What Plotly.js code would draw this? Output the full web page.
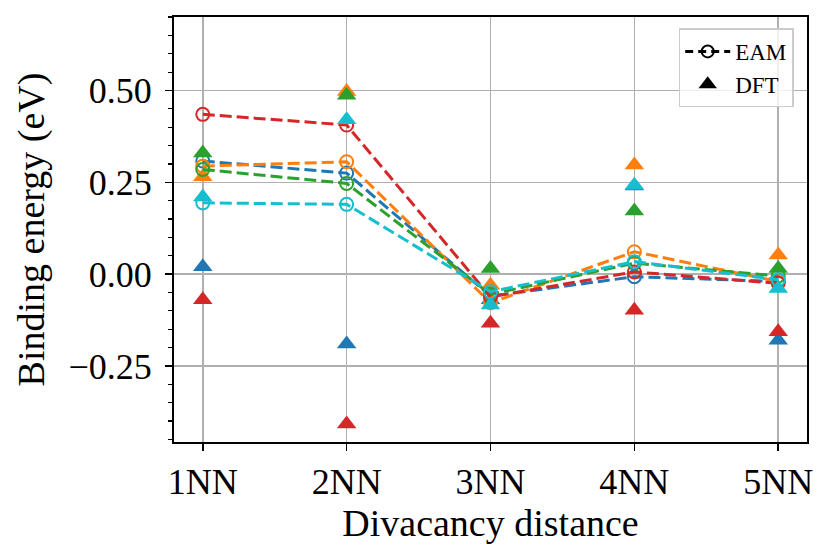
<!DOCTYPE html>
<html>
<head>
<meta charset="utf-8">
<script src="https://cdn.plot.ly/plotly-3.0.1.min.js"></script>
<style>html,body{margin:0;padding:0;background:#fff;}#chart{width:832px;height:553px;}</style>
</head>
<body>
<div id="chart"></div>
<script>
const positions = [1, 2, 3, 4, 5];
const tickLabels = ["1NN", "2NN", "3NN", "4NN", "5NN"];
const seriesColors = ["#1f77b4", "#ff7f0e", "#2ca02c", "#d62728", "#17becf"];

const eamBlue   = [0.308, 0.275, -0.060, -0.007, -0.020];
const eamOrange = [0.294, 0.306, -0.078,  0.061, -0.020];
const eamGreen  = [0.285, 0.247, -0.055,  0.030, -0.005];
const eamRed    = [0.435, 0.406, -0.062,  0.006, -0.025];
const eamCyan   = [0.194, 0.190, -0.048,  0.034, -0.015];

const dftBlue   = [0.020, -0.190, -0.070, 0.240, -0.180];
const dftOrange = [0.265,  0.497, -0.030, 0.297,  0.052];
const dftGreen  = [0.330,  0.487,  0.015, 0.172,  0.015];
const dftRed    = [-0.070, -0.408, -0.134, -0.098, -0.157];
const dftCyan   = [0.210,  0.420, -0.084, 0.242, -0.039];

const eamAll = [eamBlue, eamOrange, eamGreen, eamRed, eamCyan];
const dftAll = [dftBlue, dftOrange, dftGreen, dftRed, dftCyan];

const traces = [];
for (let i = 0; i < eamAll.length; i++) {
  traces.push({
    x: positions, y: eamAll[i], type: 'scatter', mode: 'lines+markers',
    line: {color: seriesColors[i], width: 3, dash: '12px,5px'},
    marker: {symbol: 'circle-open', size: 13, color: seriesColors[i], line: {width: 2}},
    showlegend: false, hoverinfo: 'skip'
  });
  traces.push({
    x: positions, y: dftAll[i], type: 'scatter', mode: 'markers',
    marker: {symbol: 'triangle-up', size: 17, color: seriesColors[i]},
    showlegend: false, hoverinfo: 'skip'
  });
}
traces.push({
  x: [null], y: [null], type: 'scatter', mode: 'lines+markers', name: 'EAM',
  line: {color: 'black', width: 3, dash: '8px,5px'},
  marker: {symbol: 'circle-open', size: 12, color: 'black', line: {width: 2}}
});
traces.push({
  x: [null], y: [null], type: 'scatter', mode: 'markers', name: 'DFT',
  marker: {symbol: 'triangle-up', size: 17, color: 'black'}
});

const serif = '"Liberation Serif", "Times New Roman", serif';
const layout = {
  width: 832, height: 553,
  margin: {l: 174, r: 25, t: 17, b: 111},
  paper_bgcolor: '#fff', plot_bgcolor: '#fff',
  font: {family: serif, color: '#000', size: 36},
  showlegend: true,
  legend: {
    x: 0.979, xanchor: 'right', y: 0.973, yanchor: 'top',
    bgcolor: 'rgba(255,255,255,0.8)', bordercolor: '#cccccc', borderwidth: 1.5,
    font: {size: 23, family: serif},
    itemwidth: 45, tracegroupgap: 2
  },
  xaxis: {
    range: [0.8, 5.2], tickvals: positions, ticktext: tickLabels,
    showgrid: true, gridcolor: '#b0b0b0', gridwidth: 1.5,
    showline: true, linecolor: '#000', linewidth: 2, mirror: true,
    ticks: 'outside', ticklen: 7, tickwidth: 1.5, tickcolor: '#000',
    zeroline: false, tickfont: {size: 36, family: serif},
    title: {text: 'Divacancy distance', font: {size: 38, family: serif}, standoff: 2}
  },
  yaxis: {
    range: [-0.457, 0.70], tickvals: [-0.25, 0, 0.25, 0.5],
    ticktext: ['\u22120.25', '0.00', '0.25', '0.50'],
    showgrid: true, gridcolor: '#b0b0b0', gridwidth: 1.5,
    showline: true, linecolor: '#000', linewidth: 2, mirror: true,
    ticks: 'outside', ticklen: 7, tickwidth: 1.5, tickcolor: '#000',
    zeroline: false, tickfont: {size: 36, family: serif}, ticklabelstandoff: 6,
    minor: {dtick: 0.05, tick0: 0, ticks: 'outside', ticklen: 4, tickwidth: 1.2, tickcolor: '#000', showgrid: false},
    title: {text: 'Binding energy (eV)', font: {size: 38, family: serif}, standoff: 12}
  }
};

Plotly.newPlot('chart', traces, layout, {displayModeBar: false, staticPlot: true});
</script>
</body>
</html>
